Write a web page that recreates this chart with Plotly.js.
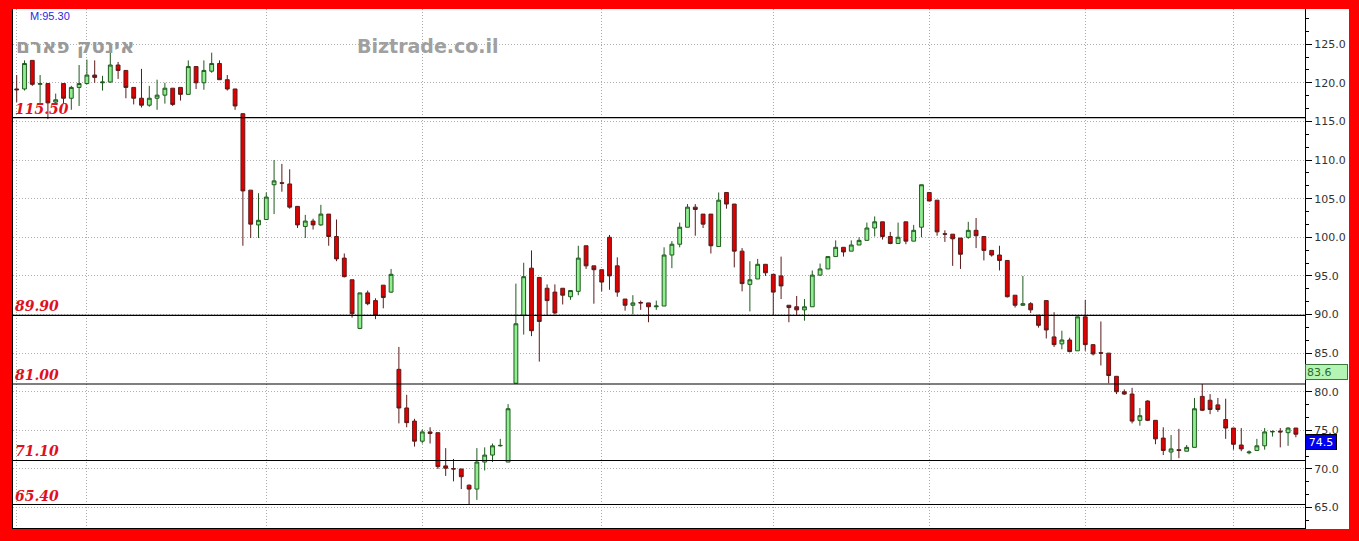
<!DOCTYPE html>
<html>
<head>
<meta charset="utf-8">
<script src="https://cdn.plot.ly/plotly-3.0.1.min.js"></script>
<style>
  html, body { margin: 0; padding: 0; background: #ff0000; width: 1359px; height: 541px; overflow: hidden; }
  #chart { position: absolute; left: 12px; top: 9px; width: 1337px; height: 520px; background: #fff; }
</style>
</head>
<body>
<div id="chart"></div>
<script>
const open = [119.2,119.2,122.9,119.8,119.9,117.5,119.9,118.0,119.4,119.9,
121.0,120.0,120.1,122.3,121.6,119.4,118.0,117.1,118.0,118.4,
119.3,119.4,118.5,122.1,120.0,121.5,122.5,120.4,119.2,116.0,
106.1,101.6,102.3,106.8,107.05,106.9,104.0,101.4,102.1,101.6,
103.0,100.1,97.3,94.5,88.2,92.8,91.8,93.8,92.9,82.9,
77.9,76.2,73.6,74.8,74.7,70.4,70.05,70.0,67.9,67.4,
70.9,71.8,73.0,70.9,81.1,89.9,96.0,94.8,93.4,92.9,
93.4,92.3,93.0,98.9,96.3,95.8,100.0,96.3,92.0,91.2,
91.55,91.5,91.0,91.1,97.7,99.1,101.3,103.9,103.0,103.0,
98.8,105.8,104.3,98.2,93.9,94.6,96.5,95.2,95.0,91.2,
91.0,90.6,91.0,95.1,95.9,97.5,98.7,98.2,99.0,99.6,
101.2,102.0,100.1,99.2,102.0,99.5,101.3,105.8,104.8,100.45,
100.4,99.9,100.0,100.9,100.1,98.3,97.7,97.0,92.5,91.2,
91.4,89.9,91.8,87.1,86.2,86.7,85.3,89.7,86.1,85.05,
85.0,82.0,80.0,79.7,76.3,78.8,76.3,74.0,72.2,72.5,
72.3,72.8,79.4,78.9,78.3,76.4,75.3,73.1,72.1,72.4,
73.0,74.8,74.9,74.7,75.3];
const high = [121.0,122.9,122.9,121.0,119.9,118.6,119.9,119.6,122.3,123.0,
122.9,120.9,124.9,122.7,121.6,119.4,121.8,119.6,120.4,120.0,
119.3,119.4,122.9,122.1,122.9,123.9,122.9,121.0,119.2,116.0,
106.1,105.7,105.8,110.0,109.5,108.8,104.0,102.9,102.4,104.2,
103.0,102.3,97.9,94.5,92.8,93.1,92.1,93.8,95.9,85.8,
79.6,76.5,75.1,75.4,74.7,72.7,71.3,70.0,68.0,72.7,
72.8,73.3,73.9,78.4,94.0,96.7,98.3,94.8,93.9,93.9,
93.4,93.1,98.9,98.9,96.3,95.8,100.3,97.4,92.0,92.5,
91.8,91.5,91.8,98.7,99.5,101.9,104.3,104.3,103.0,103.0,
105.8,105.8,104.3,98.6,96.9,97.2,96.5,95.2,97.5,91.2,
92.4,92.0,95.7,96.6,97.5,99.6,98.7,99.6,100.0,101.9,
102.7,102.0,100.7,101.9,102.0,101.6,106.8,105.8,104.8,100.9,
100.4,99.9,102.0,102.5,100.1,98.3,98.9,97.0,92.5,95.0,
91.6,89.9,91.8,90.3,87.9,87.0,89.7,91.9,86.1,89.1,
85.0,82.0,80.3,80.5,77.9,78.9,76.3,75.4,74.4,75.2,
73.1,79.2,81.0,79.7,79.2,79.1,75.3,75.3,72.4,73.9,
75.3,75.0,75.3,75.4,75.3];
const low = [117.5,119.0,119.6,117.4,115.3,117.3,117.3,116.5,117.0,119.8,
120.0,119.0,120.0,120.5,118.0,117.2,116.8,116.9,116.5,117.3,
117.0,117.7,118.5,119.2,119.1,121.3,120.4,119.0,116.5,98.9,
99.9,99.9,102.3,103.0,105.9,103.7,101.2,99.9,101.0,101.5,
98.9,96.9,94.8,89.6,88.1,91.2,89.4,90.8,92.8,75.9,
75.4,72.9,73.3,73.3,70.0,69.1,68.4,67.4,65.4,66.0,
69.8,70.9,72.9,70.9,81.1,87.4,87.2,83.9,89.9,90.0,
91.3,91.9,92.5,95.9,91.4,93.0,93.2,92.3,90.5,90.0,
90.6,89.0,90.6,91.1,96.0,98.7,101.3,100.2,101.2,97.9,
98.8,103.7,96.1,93.0,90.4,94.6,95.0,89.9,92.0,89.0,
89.9,89.2,91.0,95.0,95.9,97.5,97.5,98.2,99.0,99.6,
100.1,99.7,99.1,99.2,99.1,99.5,100.0,104.7,100.2,99.4,
96.3,95.9,99.8,98.6,97.0,97.5,95.7,92.2,90.9,91.1,
90.2,88.3,86.9,85.8,85.5,85.1,85.3,85.3,84.7,83.4,
81.1,79.7,79.6,75.9,75.6,76.2,73.2,71.8,71.1,71.4,
72.3,72.8,77.5,77.1,77.4,73.9,72.5,72.3,71.9,72.4,
72.5,74.2,72.8,73.0,74.1];
const close = [119.1,122.5,119.8,119.9,117.4,117.8,118.0,119.4,119.9,121.0,
120.7,120.1,122.3,121.6,119.4,118.0,117.1,118.0,118.4,119.3,
117.2,118.5,122.1,120.0,121.6,122.5,120.4,119.2,117.0,106.0,
101.7,102.2,105.2,107.3,107.0,103.9,101.6,102.1,101.6,103.0,
100.1,97.2,94.9,90.1,92.8,91.4,89.9,92.2,95.2,77.9,
76.0,73.6,74.8,74.6,70.3,70.1,70.0,69.0,67.4,70.9,
71.8,73.0,73.05,77.8,88.8,94.9,87.9,89.1,91.8,90.2,
92.5,93.1,97.3,96.3,95.8,94.2,95.0,92.9,91.2,91.5,
91.5,91.0,91.1,97.7,99.1,101.3,103.9,103.6,101.7,98.9,
104.8,104.3,98.2,94.0,94.5,96.5,95.4,92.9,93.7,90.9,
90.6,91.0,95.1,95.9,97.5,98.7,98.1,99.0,99.6,101.2,
102.0,100.1,99.2,100.0,99.5,100.9,106.8,104.7,100.7,100.4,
99.8,97.8,100.9,100.2,98.3,97.7,97.0,92.3,91.2,91.4,
90.6,88.6,88.0,86.1,86.7,85.2,89.7,86.1,84.9,85.0,
82.1,80.0,79.7,76.2,76.9,76.3,73.9,72.4,72.6,72.4,
72.8,77.8,77.6,77.7,77.7,75.3,73.2,72.6,72.2,73.0,
74.8,74.85,74.8,75.3,74.5];

const levels = [115.5, 89.9, 81.0, 71.1, 65.4];
const levelLabels = ['115.50', '89.90', '81.00', '71.10', '65.40'];
const periodStarts = [0, 9, 32, 52, 75, 97, 117, 137, 156];
const yTicks = [65, 70, 75, 80, 85, 90, 95, 100, 105, 110, 115, 120, 125];
const maValue = 83.6;
const lastValue = 74.5;
const titleText = 'אינטק פארם';
const brandText = 'Biztrade.co.il';
const topNote = 'M:95.30';

const xs = open.map((_, i) => i);

const trace = {
  type: 'candlestick',
  x: xs, open: open, high: high, low: low, close: close,
  increasing: { fillcolor: '#90ee90', line: { color: '#1e5a1e', width: 1 } },
  decreasing: { fillcolor: '#e00000', line: { color: '#5b1b1b', width: 1 } },
  hoverinfo: 'skip',
  showlegend: false
};

const shapes = levels.map(v => ({
  type: 'line', xref: 'paper', x0: 0, x1: 1, yref: 'y', y0: v, y1: v,
  line: { color: '#000', width: 1.2 }, layer: 'above'
}));

const annotations = levels.map((v, i) => ({
  xref: 'paper', x: 0, xanchor: 'left', xshift: 0,
  yref: 'y', y: v, yanchor: 'bottom', yshift: -1,
  text: '<b><i>' + levelLabels[i] + '</i></b>', showarrow: false,
  font: { family: 'DejaVu Serif', size: 14, color: '#e01020' }
}));

annotations.push({
  xref: 'paper', x: (28 - 13) / 1292, xanchor: 'left',
  yref: 'paper', y: 1, yanchor: 'top', yshift: 1,
  text: topNote, showarrow: false,
  font: { family: 'Liberation Sans', size: 11, color: '#2a2ae0' }
});
annotations.push({
  xref: 'paper', x: (14 - 13) / 1292, xanchor: 'left',
  yref: 'paper', y: 1 - 37 / 519, yanchor: 'middle',
  text: '<b>' + titleText + '</b>', showarrow: false,
  font: { family: 'DejaVu Sans', size: 20, color: '#9a9a9a' }
});
annotations.push({
  xref: 'paper', x: (428 - 13) / 1292, xanchor: 'center',
  yref: 'paper', y: 1 - 37 / 519, yanchor: 'middle',
  text: '<b>' + brandText + '</b>', showarrow: false,
  font: { family: 'DejaVu Sans', size: 19, color: '#a0a0a0' }
});
annotations.push({
  xref: 'paper', x: 1, xanchor: 'left', xshift: 0,
  yref: 'y', y: maValue, yanchor: 'top',
  text: maValue.toFixed(1), showarrow: false, align: 'left',
  width: 39, height: 12, borderpad: 1, borderwidth: 1,
  bgcolor: '#b4f5b4', bordercolor: '#3a7a3a',
  font: { family: 'DejaVu Sans', size: 11, color: '#2a6a2a' }
});
annotations.push({
  xref: 'paper', x: 1, xanchor: 'left', xshift: 0,
  yref: 'y', y: lastValue, yanchor: 'top',
  text: lastValue.toFixed(1), showarrow: false, align: 'center',
  width: 28, height: 12, borderpad: 1, borderwidth: 1,
  bgcolor: '#0000ee', bordercolor: '#000',
  font: { family: 'DejaVu Sans', size: 11, color: '#ffffff' }
});

const layout = {
  width: 1337, height: 520,
  margin: { l: 1, r: 44, t: 0, b: 1, pad: 0 },
  paper_bgcolor: '#ffffff', plot_bgcolor: '#ffffff',
  showlegend: false,
  xaxis: {
    range: [-0.474, 165.17], fixedrange: true,
    rangeslider: { visible: false },
    tickmode: 'array', tickvals: periodStarts, showticklabels: false, ticks: '',
    showgrid: true, gridcolor: '#aaaaaa', griddash: '1px,2px', gridwidth: 1,
    zeroline: false, showline: true, linecolor: '#000', linewidth: 1
  },
  yaxis: {
    side: 'right', range: [62.36, 129.553], fixedrange: true,
    tickmode: 'array', tickvals: yTicks, ticktext: yTicks.map(v => v.toFixed(1)),
    ticks: 'outside', ticklen: 6, tickcolor: '#000', tickwidth: 1,
    minor: { tickmode: 'linear', tick0: 65, dtick: 5 / 3, ticks: 'outside', ticklen: 3, tickcolor: '#000', showgrid: false },
    tickfont: { family: 'DejaVu Sans', size: 11, color: '#333' },
    showgrid: true, gridcolor: '#b0b0b0', griddash: '1px,2px', gridwidth: 1,
    zeroline: false, showline: true, mirror: true, linecolor: '#000', linewidth: 1
  },
  shapes: shapes,
  annotations: annotations
};

Plotly.newPlot('chart', [trace], layout, { staticPlot: true, displayModeBar: false });
</script>
</body>
</html>
